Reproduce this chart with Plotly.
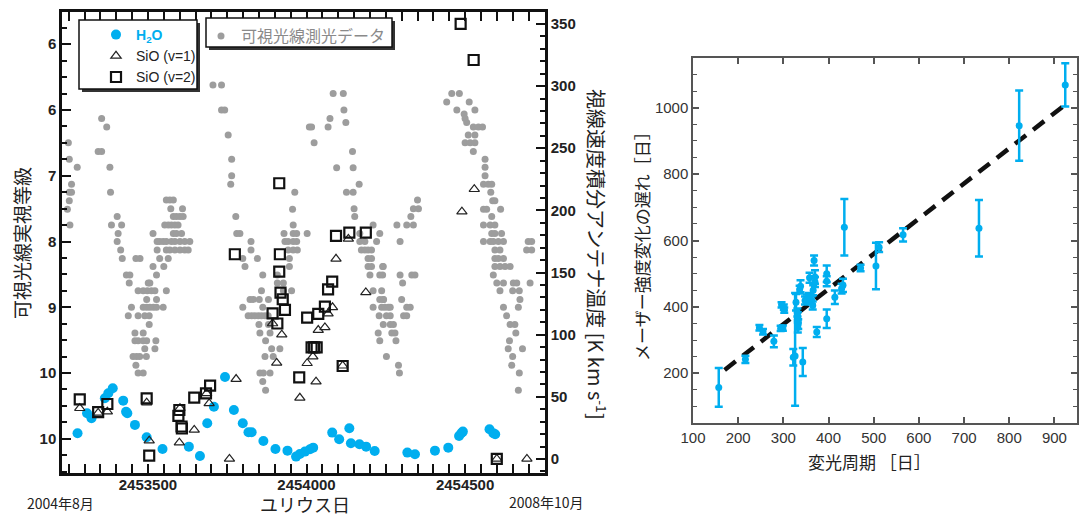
import plotly.graph_objects as go

JD0 = 2450000  # Julian-date offset used in the lists below

# ---------- visual photometry (gray) ----------
vis_jd = [3249,3252,3277,3259,3259,3252,3252,3246,3254,3354,3370,3343,3354,3380,3382,3403,3385,3417,3406,3403,
          3414,3419,3462,3475,3432,3443,3441,3469,3485,3498,3511,3522,3501,3506,3558,3448,3438,3469,3490,3504,
          3485,3496,3506,3517,3527,3548,3496,3527,3504,3459,3485,3459,3469,3485,3496,3525,3490,3522,3453,3464,
          3474,3495,3462,3469,3485,3516,3529,3537,3548,3558,3529,3537,3516,3550,3527,3564,3553,3564,3574,3585,
          3595,3580,3590,3601,3611,3558,3569,3580,3572,3609,3574,3585,3601,3616,3632,3558,3569,3585,3601,3616,
          3627,3580,3590,3606,
          3705,3732,3732,3742,3753,3764,3764,3761,3777,3780,3790,3799,3806,3825,3825,3845,3862,3858,3822,3832,
          3851,3880,3799,3862,3816,3827,3837,3848,3858,3869,3879,3850,3880,3853,3885,3871,3890,3916,3869,3895,
          3853,3864,3885,3862,3871,3908,3908,3927,3927,3953,3929,3958,3969,3932,3942,3958,3969,3942,3958,3971,
          3946,3946,3958,3956,3963,4002,4009,4016,4024,4068,4074,4084,4116,4118,4124,4095,4147,4145,4126,4147,
          4166,4150,4152,4168,4168,4184,4173,4184,4194,4205,4194,4205,4194,4205,4200,4231,4242,4210,4231,4221,
          4210,4237,4231,4242,4210,4237,4247,4258,4229,4252,4242,4226,4231,4252,4240,4240,4243,4264,4264,4264,
          4274,4269,4279,4282,4290,4293,4285,4316,4337,4295,4329,4337,4353,4350,4295,4332,4342,4303,4300,4316,
          4327,4306,4316,
          4442,4458,4482,4474,4513,4531,4497,4500,4505,4526,4542,4555,4510,4531,4500,4516,4531,4526,4563,4563,
          4563,4558,4573,4584,4581,4587,4594,4558,4568,4612,4584,4558,4579,4594,4584,4594,4615,4558,4579,4589,
          4605,4621,4594,4610,4594,4605,4621,4594,4610,4626,4642,4589,4600,4621,4652,4663,4610,4650,4671,4673,
          4621,4668,4631,4642,4657,4660,4640,4636,4681,4650,4647,4671,4668,4694,4710,4699,4710,4705]
vis_mag = [6.50,6.75,6.87,7.13,7.25,7.25,7.38,7.51,7.75,6.13,6.26,6.63,6.63,6.87,7.25,7.62,7.75,7.75,7.88,8.00,
           8.13,8.26,8.26,8.26,8.51,8.51,8.63,8.75,8.75,8.75,8.75,8.75,8.63,8.63,8.75,9.00,9.13,9.13,9.13,9.13,
           9.00,9.00,9.00,9.00,9.00,9.00,8.88,8.88,9.26,9.39,9.39,9.51,9.51,9.51,9.51,9.51,9.63,9.63,9.75,9.75,
           9.75,9.75,9.88,10.0,10.0,7.88,8.00,8.00,8.00,8.00,8.13,8.26,8.38,8.38,8.51,8.26,7.75,7.75,7.75,7.75,
           7.75,7.62,7.62,7.62,7.62,7.37,7.37,7.37,7.50,7.50,8.00,8.00,8.00,8.00,8.00,8.13,8.13,8.13,8.13,8.13,
           8.13,7.88,7.88,7.88,
           5.62,5.62,6.00,6.00,6.38,6.75,7.00,7.13,7.62,7.88,7.88,8.26,8.38,8.00,8.13,8.26,8.51,8.75,8.88,8.88,
           8.88,8.88,9.00,9.00,9.13,9.13,9.13,9.13,9.13,9.13,9.13,9.26,9.26,9.39,9.39,9.51,9.63,9.63,9.75,9.75,
           10.0,10.0,10.0,10.13,10.26,8.51,8.63,8.63,8.75,8.75,7.88,7.88,7.88,8.00,8.00,8.00,8.00,8.13,8.13,8.13,
           8.26,8.38,7.75,7.51,7.25,7.88,6.26,6.26,6.50,6.26,6.13,5.75,5.75,6.00,6.19,6.88,6.88,6.63,7.25,7.25,
           7.13,7.50,7.62,7.88,8.00,8.00,8.13,8.13,8.13,8.13,8.26,8.26,8.38,8.38,8.51,8.51,8.38,7.75,7.88,8.00,
           8.75,8.75,8.88,8.88,9.00,9.00,9.00,9.00,9.13,9.13,9.26,9.39,9.51,9.75,8.38,8.51,8.88,9.00,9.13,9.26,
           9.26,9.39,9.39,9.51,9.88,10.0,7.75,7.75,7.75,8.00,7.62,7.50,7.50,7.37,8.51,8.51,8.51,8.63,8.88,9.00,
           9.00,9.13,9.13,
           5.88,5.75,5.75,6.00,5.88,6.00,6.06,6.13,6.19,6.26,6.26,6.26,6.38,6.38,6.50,6.50,6.50,6.63,6.75,6.87,
           7.00,7.13,7.13,7.13,7.25,7.38,7.38,7.51,7.51,7.51,7.62,7.75,7.75,7.75,7.88,7.88,7.88,8.00,8.00,8.00,
           8.00,8.00,8.13,8.13,8.26,8.26,8.26,8.38,8.38,8.38,8.38,8.51,8.63,8.63,8.63,8.63,8.75,8.75,8.75,8.88,
           9.00,9.00,9.13,9.26,9.26,9.39,9.51,9.63,9.63,9.75,9.88,10.0,10.26,8.13,8.13,8.00,8.00,8.63]

# ---------- H2O maser (cyan) ----------
h2o_jd = [3278,3308,3322,3364,3375,3389,3422,3431,3435,3459,3496,3546,3629,3664,3687,3708,3743,3771,3799,3817,
          3827,3864,3902,3940,3967,3979,3995,4011,4021,4081,4103,4135,4140,4167,4188,4215,4318,4342,4405,4447,
          4481,4488,4493,4577,4589,4595]
h2o_k = [20.7,36.8,32.7,48.8,52.8,56.9,46.9,38.0,36.8,27.4,17.5,8.0,9.9,2.4,28.7,42.0,66.0,39.4,28.7,21.5,
         21.5,14.5,8.0,6.7,1.9,4.0,5.9,7.8,9.1,21.2,15.8,24.7,12.6,11.8,9.9,6.4,5.1,3.8,6.7,9.1,
         18.5,20.7,22.0,23.9,20.7,19.9]

# ---------- SiO v=1 (triangles) ----------
sio1_jd = [3285,3343,3372,3496,3504,3599,3601,3646,3685,3693,3757,3778,3893,3906,3922,3979,4002,4020,4030,4037,
           4058,4068,4082,4093,4114,4132,4187,4490,4529,4600,4695]
sio1_k = [40.8,37.0,38.0,45.3,14.7,13.1,40.8,23.4,52.8,44.7,0.0,64.3,109.0,77.3,100.0,49.2,77.0,82.4,62.2,103.7,
          105.8,117.0,122.0,161.0,75.0,177.0,134.0,199.0,217.0,0.0,0.0]

# ---------- SiO v=2 (squares) ----------
sio2_jd = [3285,3343,3372,3496,3504,3599,3596,3606,3607,3646,3683,3696,3774,3914,3916,3914,3918,3925,3932,3893,
           3908,3977,4002,4016,4024,4032,4037,4058,4068,4081,4093,4114,4135,4187,4486,4527,4600]
sio2_k = [47.9,37.6,44.2,48.8,2.6,39.4,34.6,26.1,24.5,49.3,52.8,59.0,164.7,221.8,164.7,150.7,133.8,128.5,119.9,117.2,
          109.0,65.7,113.7,89.8,89.8,89.8,116.7,122.6,136.5,142.7,179.4,74.8,182.1,182.1,350.0,321.0,0.0]

# ---------- right panel: period vs. delay ----------
period = [157,216,247,255,279,294,299,296,301,302,322,326,328,331,332,333,332,338,336,343,
          348,352,356,358,363,365,366,370,370,368,374,396,396,396,414,429,432,435,471,505,
          512,565,733,822,924]
delay = [157,242,337,325,296,335,336,406,399,390,248,252,414,383,372,348,338,462,452,234,
         419,425,430,488,420,404,450,475,490,540,324,364,477,500,429,455,465,640,517,523,
         580,617,637,946,1069]
err_up = [59,11,8,8,18,8,8,8,8,8,25,190,25,12,12,15,15,18,12,42,
          12,12,12,15,12,12,15,15,20,15,15,28,15,25,20,15,20,85,10,70,
          15,20,85,106,65]
err_dn = [58,11,8,8,18,8,8,8,8,8,25,150,25,12,12,15,15,18,12,42,
          12,12,12,15,12,12,15,15,20,15,15,28,15,25,20,15,20,85,10,70,
          15,20,85,106,65]
fit_period = [170, 920]
fit_delay = [210, 1005]

mag_ticks = [5, 6, 7, 8, 9, 10, 11]
mag_labels = ["6", "6", "7", "8", "9", "10", "10"]

CYAN = "#00aeef"
GRAY = "#9d9d9d"
W, H = 1080, 518

def full(lst):
    return [JD0 + v for v in lst]

def px(x):
    return x / W

def py(y):
    return 1 - y / H

fig = go.Figure()

fig.add_trace(go.Scatter(x=full(vis_jd), y=vis_mag, mode="markers", name="可視光線測光データ",
                         marker=dict(color=GRAY, size=7), xaxis="x", yaxis="y", legend="legend2"))
fig.add_trace(go.Scatter(x=full(h2o_jd), y=h2o_k, mode="markers",
                         name="<span style='color:#00aeef'><b>H<sub>2</sub>O</b></span>",
                         marker=dict(color=CYAN, size=10), xaxis="x", yaxis="y2", legend="legend"))
fig.add_trace(go.Scatter(x=full(sio1_jd), y=sio1_k, mode="markers", name="SiO (v=1)",
                         marker=dict(symbol="triangle-up-open", size=9, color="#222",
                                     line=dict(width=1.2, color="#222")),
                         xaxis="x", yaxis="y2", legend="legend"))
fig.add_trace(go.Scatter(x=full(sio2_jd), y=sio2_k, mode="markers", name="SiO (v=2)",
                         marker=dict(symbol="square-open", size=10, color="#111",
                                     line=dict(width=2.2, color="#111")),
                         xaxis="x", yaxis="y2", legend="legend"))

fig.add_trace(go.Scatter(x=fit_period, y=fit_delay, mode="lines", showlegend=False,
                         line=dict(color="#111", width=4.5, dash="14px,9px"),
                         xaxis="x2", yaxis="y3"))
fig.add_trace(go.Scatter(x=period, y=delay, mode="markers", showlegend=False,
                         marker=dict(color=CYAN, size=7),
                         error_y=dict(type="data", array=err_up, arrayminus=err_dn, color=CYAN,
                                      thickness=2.5, width=4),
                         xaxis="x2", yaxis="y3"))

tickfont_bold = dict(family="Liberation Sans, Arial, sans-serif", size=15, color="#222", weight="bold")
narrow = "Liberation Sans Narrow, Arial Narrow, Liberation Sans, sans-serif"
cjk = "Noto Sans CJK JP, sans-serif"

def ann(text, x, y, size, angle=0, color="#222", family=cjk):
    return dict(text=text, x=px(x), y=py(y), xref="paper", yref="paper", showarrow=False,
                xanchor="center", yanchor="middle", textangle=angle,
                font=dict(family=family, size=size, color=color))

fig.update_layout(
    width=W, height=H, margin=dict(l=0, r=0, t=0, b=0, autoexpand=False),
    paper_bgcolor="white", plot_bgcolor="white",
    xaxis=dict(domain=[px(62), px(545)], range=[2453229, 2454752], tickvals=[2453500, 2454000, 2454500],
               tickformat="d", ticks="inside", ticklen=9, tickwidth=2, tickcolor="#111",
               minor=dict(dtick=50, tick0=2453500, ticks="inside", ticklen=5, tickwidth=1.5, tickcolor="#111"),
               showline=True, linewidth=2.5, linecolor="#111", mirror="allticks", automargin=False,
               ticklabelstandoff=-4,
               showgrid=False, zeroline=False, tickfont=tickfont_bold, anchor="y"),
    yaxis=dict(domain=[py(473), py(12)], range=[11.52, 4.51], tickvals=mag_ticks, ticktext=mag_labels,
               ticks="inside", ticklen=9, tickwidth=2, tickcolor="#111",
               minor=dict(dtick=0.25, tick0=5, ticks="inside", ticklen=5, tickwidth=1.5, tickcolor="#111"),
               showline=True, linewidth=2.5, linecolor="#111", showgrid=False, zeroline=False,
               automargin=False, tickfont=tickfont_bold, anchor="x"),
    yaxis2=dict(domain=[py(473), py(12)], range=[-11.3, 359.6], overlaying="y", side="right", anchor="x",
                tickvals=[0, 50, 100, 150, 200, 250, 300, 350],
                ticks="inside", ticklen=9, tickwidth=2, tickcolor="#111",
                minor=dict(dtick=10, tick0=0, ticks="inside", ticklen=5, tickwidth=1.5, tickcolor="#111"),
                showline=True, linewidth=2.5, linecolor="#111", showgrid=False, zeroline=False,
                automargin=False, tickfont=tickfont_bold),
    xaxis2=dict(domain=[px(693), px(1077)], range=[100, 950], dtick=100, tick0=100, anchor="y3",
                ticks="inside", ticklen=6, tickwidth=1.5, tickcolor="#555",
                showline=True, linewidth=1.5, linecolor="#555", mirror="allticks",
                showgrid=False, zeroline=False, automargin=False,
                tickfont=dict(family=narrow, size=15, color="#333")),
    yaxis3=dict(domain=[py(423), py(58)], range=[50, 1150], tickvals=[200, 400, 600, 800, 1000], anchor="x2",
                ticks="inside", ticklen=6, tickwidth=1.5, tickcolor="#555",
                minor=dict(dtick=50, tick0=0, ticks="inside", ticklen=4, tickwidth=1.2, tickcolor="#555"),
                showline=True, linewidth=1.5, linecolor="#555", mirror="allticks",
                showgrid=False, zeroline=False, automargin=False,
                tickfont=dict(family=narrow, size=15, color="#333")),
    legend=dict(x=px(96), y=py(19), xanchor="left", yanchor="top", bgcolor="rgba(0,0,0,0)",
                borderwidth=0,
                font=dict(family="Liberation Sans, Arial, sans-serif", size=14, color="#222"),
                tracegroupgap=0, itemwidth=30),
    legend2=dict(x=px(201), y=py(19), xanchor="left", yanchor="top", bgcolor="rgba(0,0,0,0)",
                 borderwidth=0,
                 font=dict(family=cjk, size=16, color="#8a8a8a"), itemwidth=30),
    shapes=[
        # legend 1 shadow and box
        dict(type="rect", xref="paper", yref="paper", x0=px(82), x1=px(200), y0=py(92), y1=py(23),
             fillcolor="#333", line=dict(width=0), layer="above"),
        dict(type="rect", xref="paper", yref="paper", x0=px(79), x1=px(197), y0=py(89), y1=py(20),
             fillcolor="white", line=dict(width=1.5, color="#111"), layer="above"),
        # legend 2 shadow and box
        dict(type="rect", xref="paper", yref="paper", x0=px(209), x1=px(395), y0=py(50), y1=py(21),
             fillcolor="#333", line=dict(width=0), layer="above"),
        dict(type="rect", xref="paper", yref="paper", x0=px(206), x1=px(392), y0=py(47), y1=py(18),
             fillcolor="white", line=dict(width=1.5, color="#111"), layer="above"),
    ],
    annotations=[
        ann("可視光線実視等級", 21, 243, 19, angle=-90),
        ann("視線速度積分アンテナ温度 [K km s<sup>-1</sup>]", 597, 254, 20, angle=90),
        ann("ユリウス日", 305, 504, 18),
        ann("2004年8月", 60, 503, 14),
        ann("2008年10月", 546, 502, 14),
        ann("メーザー強度変化の遅れ［日］", 642, 242, 17, angle=-90),
        ann("変光周期 ［日］", 869, 461, 17),
    ],
)

fig.write_html("out.html", config={"displayModeBar": False},
               post_script="document.body.style.margin='0';document.body.style.padding='0';")
